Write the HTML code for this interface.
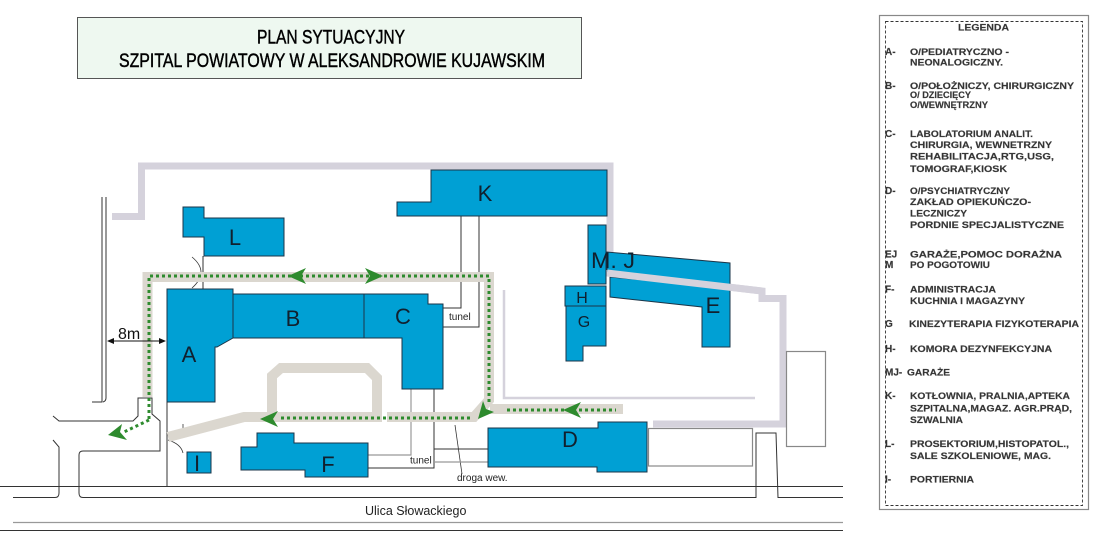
<!DOCTYPE html>
<html>
<head>
<meta charset="utf-8">
<style>
html,body{margin:0;padding:0;background:#fff;}
svg{display:block;}
</style>
</head>
<body>
<svg width="1098" height="542" viewBox="0 0 1098 542" xmlns="http://www.w3.org/2000/svg" font-family="'Liberation Sans', Arial, sans-serif">
<rect width="1098" height="542" fill="#fff"/>

<!-- Title -->
<rect x="77.5" y="17.5" width="504" height="61" fill="#eef8f0" stroke="#555" stroke-width="1"/>
<g fill="#000" stroke="#000" stroke-width="0.45">
<text x="257" y="43.5" font-size="19.5" textLength="148" lengthAdjust="spacingAndGlyphs">PLAN SYTUACYJNY</text>
<text x="119" y="67" font-size="19.5" textLength="426" lengthAdjust="spacingAndGlyphs">SZPITAL POWIATOWY W ALEKSANDROWIE KUJAWSKIM</text>
</g>

<!-- Legend -->
<rect x="879.5" y="15.5" width="209" height="494" fill="#fff" stroke="#888" stroke-width="1.2"/>
<rect x="885.5" y="21.5" width="197" height="484" fill="none" stroke="#333" stroke-width="0.9" stroke-dasharray="3,2"/>
<g font-size="9.2" font-weight="bold" fill="#333" stroke="#555" stroke-width="0.2">
<text x="958" y="30.5" textLength="51" lengthAdjust="spacingAndGlyphs">LEGENDA</text>
<text x="885" y="55" font-size="10">A-</text>
<text x="910" y="55" textLength="99" lengthAdjust="spacingAndGlyphs">O/PEDIATRYCZNO -</text>
<text x="910" y="65.5" textLength="93" lengthAdjust="spacingAndGlyphs">NEONALOGICZNY.</text>
<text x="885" y="89" font-size="10">B-</text>
<text x="910" y="89" textLength="164" lengthAdjust="spacingAndGlyphs">O/POŁOŻNICZY, CHIRURGICZNY</text>
<text x="910" y="98" textLength="61" lengthAdjust="spacingAndGlyphs">O/ DZIECIĘCY</text>
<text x="910" y="108" textLength="78" lengthAdjust="spacingAndGlyphs">O/WEWNĘTRZNY</text>
<text x="885" y="137" font-size="10">C-</text>
<text x="910" y="137" textLength="123" lengthAdjust="spacingAndGlyphs">LABOLATORIUM ANALIT.</text>
<text x="910" y="148" textLength="142" lengthAdjust="spacingAndGlyphs">CHIRURGIA, WEWNETRZNY</text>
<text x="910" y="159.5" textLength="144" lengthAdjust="spacingAndGlyphs">REHABILITACJA,RTG,USG,</text>
<text x="910" y="172" textLength="97" lengthAdjust="spacingAndGlyphs">TOMOGRAF,KIOSK</text>
<text x="885" y="194" font-size="10">D-</text>
<text x="910" y="194" textLength="100" lengthAdjust="spacingAndGlyphs">O/PSYCHIATRYCZNY</text>
<text x="910" y="205" textLength="121" lengthAdjust="spacingAndGlyphs">ZAKŁAD  OPIEKUŃCZO-</text>
<text x="910" y="216.5" textLength="57" lengthAdjust="spacingAndGlyphs">LECZNICZY</text>
<text x="910" y="228" textLength="154" lengthAdjust="spacingAndGlyphs">PORDNIE SPECJALISTYCZNE</text>
<text x="885" y="257.5" font-size="10">EJ</text>
<text x="910" y="257.5" textLength="152" lengthAdjust="spacingAndGlyphs">GARAŻE,POMOC DORAŻNA</text>
<text x="885" y="268" font-size="10">M</text>
<text x="910" y="268" textLength="80" lengthAdjust="spacingAndGlyphs">PO POGOTOWIU</text>
<text x="885" y="292.5" font-size="10">F-</text>
<text x="910" y="292.5" textLength="86" lengthAdjust="spacingAndGlyphs">ADMINISTRACJA</text>
<text x="910" y="304" textLength="115" lengthAdjust="spacingAndGlyphs">KUCHNIA I MAGAZYNY</text>
<text x="885" y="327" font-size="10">G</text>
<text x="909" y="327" textLength="170" lengthAdjust="spacingAndGlyphs">KINEZYTERAPIA FIZYKOTERAPIA</text>
<text x="885" y="352" font-size="10">H-</text>
<text x="910" y="352" textLength="142" lengthAdjust="spacingAndGlyphs">KOMORA DEZYNFEKCYJNA</text>
<text x="885" y="375.5" font-size="10">MJ-</text>
<text x="907" y="375.5" textLength="43" lengthAdjust="spacingAndGlyphs">GARAŻE</text>
<text x="885" y="399" font-size="10">K-</text>
<text x="910" y="399" textLength="160" lengthAdjust="spacingAndGlyphs">KOTŁOWNIA, PRALNIA,APTEKA</text>
<text x="910" y="411.5" textLength="162" lengthAdjust="spacingAndGlyphs">SZPITALNA,MAGAZ. AGR.PRĄD,</text>
<text x="910" y="423" textLength="53" lengthAdjust="spacingAndGlyphs">SZWALNIA</text>
<text x="885" y="447" font-size="10">L-</text>
<text x="910" y="447" textLength="159" lengthAdjust="spacingAndGlyphs">PROSEKTORIUM,HISTOPATOL.,</text>
<text x="910" y="459" textLength="141" lengthAdjust="spacingAndGlyphs">SALE SZKOLENIOWE, MAG.</text>
<text x="885" y="482.5" font-size="10">I-</text>
<text x="910" y="482.5" textLength="64" lengthAdjust="spacingAndGlyphs">PORTIERNIA</text>
</g>

<!-- Lavender boundary -->
<path d="M112,216.5 H141.5 V166 H610 V273 L762,291 V298.5 H783 V424 H653" fill="none" stroke="#d5d2dc" stroke-width="7"/>
<path d="M504,290 V398 H755" fill="none" stroke="#d5d2dc" stroke-width="2.5"/>

<!-- gray outline rects -->
<rect x="786.5" y="351.5" width="39" height="95" fill="none" stroke="#888" stroke-width="1.2"/>
<rect x="648.5" y="428.5" width="104" height="37.5" fill="none" stroke="#888" stroke-width="1.2"/>

<!-- Black/gray lines -->
<g fill="none" stroke="#333" stroke-width="1">
<path d="M102,197 V402 H92"/>
<path d="M106,197 V398 Q106,401 103,402"/>
<path d="M53,416 L59,421 H133 L138,416 V398 H152 V414 L160,421 V451 H83 Q79,451 79,455 V493 Q79,497.5 83,497.5 H756 V433 H776 L778,497.5 H843"/>
<path d="M53,440 L59,447 V493 Q59,497.5 55,497.5 H13"/>
<path d="M0,486.5 H843"/>
<path d="M0,530.5 H843"/>
<path d="M167,402 V486"/>
<path d="M203,256 V289"/>
<path d="M192,257 Q210,272 192,288" stroke-width="0.8"/>
<path d="M168,440 Q181,444 183,453" stroke-width="0.8"/>
<path d="M183,424 V430" stroke-width="0.8"/>
<path d="M461,216 V308 H443"/>
<path d="M479,216 V327 H443"/>
<path d="M368,468 H434 V389"/>
<path d="M434,449 H488"/>
<path d="M455,425 L462,474" stroke-width="0.8"/>
</g>
<g fill="none" stroke="#999" stroke-width="1.2">
<path d="M13,522.5 H843"/>
<path d="M368,455 H411 V389"/>
<path d="M434,462 H488"/>
</g>

<!-- Beige roads -->
<g fill="none" stroke="#dbd7cf" stroke-width="10" stroke-linejoin="miter">
<path d="M147.5,397 V277 H489 V400 L474,417 H387"/>
<path d="M382,417 H244 L168,437"/>
<path d="M272,417 V376 L281,368 H367 L377,378 V417"/>
<path d="M490,409 H623"/>
</g>

<!-- Buildings -->
<g fill="#00a0d4" stroke="#1b3548" stroke-width="1">
<polygon points="183,207 204,207 204,218 284,218 284,256 204,256 204,237 183,237"/>
<polygon points="167,289 233,289 233,338 217,347 215,347 215,402 167,402"/>
<polygon points="233,294 364,294 364,338 233,338"/>
<polygon points="364,294 428,294 428,304 443,304 443,389 402,389 402,338 364,338"/>
<polygon points="431,170 607,170 607,216 397,216 397,202 431,202"/>
<polygon points="588,225 606,225 606,284 588,284"/>
<polygon points="565,286 606,286 606,306 565,306"/>
<polygon points="566,306 606,306 606,346 583,346 583,361 566,361"/>
<polygon points="607,252 730,263 730,286 607,272" stroke="none"/>
<path d="M607,270 V252 L730,263 V286" fill="none"/>
<polygon points="610,277 730,288 730,347 702,347 702,307 610,297"/>
<polygon points="488,428 598,428 598,422 647,422 647,472 597,472 597,467 488,467"/>
<polygon points="257,433 294,433 294,443 368,443 368,477 305,477 305,470 241,470 241,447 257,447"/>
<polygon points="187,452 211,452 211,473 187,473"/>
</g>
<!-- lavender over J bottom -->
<path d="M607,273 L762,291" fill="none" stroke="#d5d2dc" stroke-width="7"/>

<!-- Green dotted routes -->
<g fill="none" stroke="#2e8b2e" stroke-width="3" stroke-dasharray="3,3">
<path d="M149,419 V276 H489 V402"/>
<path d="M149,420 L124,432"/>
<path d="M470,418 H280"/>
<path d="M507,410 H616"/>
</g>
<g fill="#2e8b2e">
<polygon points="288,276 306,268 301,276 306,284"/>
<polygon points="383,276 365,268 370,276 365,284"/>
<polygon points="478,419 483,401 486,409 494,412"/>
<polygon points="260,419 278,411 273,419 278,427"/>
<polygon points="563,410 581,402 576,410 581,418"/>
<polygon points="108,435 122,424 120,432 127,440"/>
</g>

<!-- 8m dimension -->
<path d="M109,341 H164" stroke="#111" stroke-width="1"/>
<polygon points="107,341 114,338 114,344" fill="#111"/>
<polygon points="166,341 159,338 159,344" fill="#111"/>
<text x="118" y="339" font-size="16" fill="#111">8m</text>

<!-- Building labels -->
<g font-size="22" fill="#11202e" text-anchor="middle">
<text x="235" y="245">L</text>
<text x="189" y="362">A</text>
<text x="293" y="326">B</text>
<text x="403" y="324">C</text>
<text x="485" y="201">K</text>
<text x="713" y="313">E</text>
<text x="570" y="447">D</text>
<text x="328" y="472">F</text>
<text x="197" y="471">I</text>
</g>
<text x="591" y="268" font-size="22" fill="#11202e" textLength="44" lengthAdjust="spacingAndGlyphs">M. J</text>
<g font-size="16" fill="#11202e" text-anchor="middle">
<text x="582" y="303">H</text>
<text x="584" y="327">G</text>
</g>

<!-- small labels -->
<g font-size="10" fill="#222">
<text x="449" y="320">tunel</text>
<text x="410" y="463.5">tunel</text>
<text x="457" y="481">droga wew.</text>
</g>
<text x="365" y="515" font-size="12.5" fill="#222">Ulica Słowackiego</text>
</svg>
</body>
</html>
